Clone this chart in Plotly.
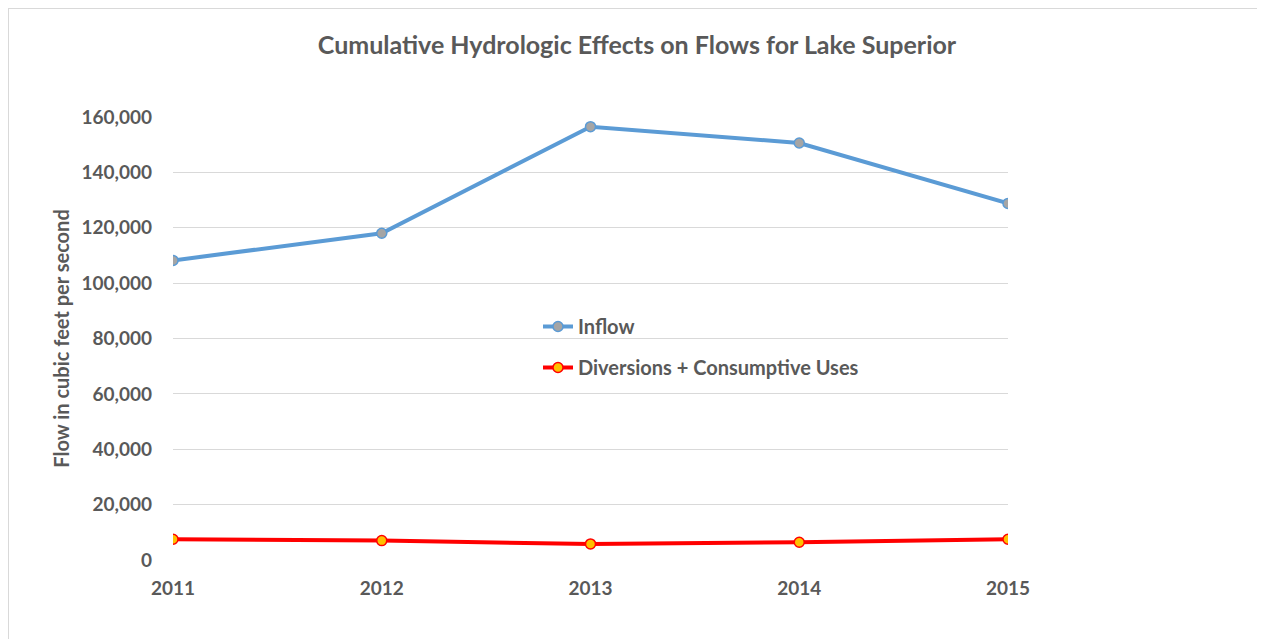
import plotly.graph_objects as go

years = [2011, 2012, 2013, 2014, 2015]
inflow = [108200, 118000, 156500, 150600, 128800]
diversions = [7500, 7000, 5800, 6400, 7500]
y_ticks = [0, 20000, 40000, 60000, 80000, 100000, 120000, 140000, 160000]

font_name = "Lato"
grey_text = "#595959"

fig = go.Figure()

fig.add_trace(go.Scatter(
    x=years, y=inflow, name="<b>Inflow</b>",
    mode="lines+markers", legendgroup="a",
    line=dict(color="#5B9BD5", width=4),
    marker=dict(size=10, color="#A5A5A5", line=dict(color="#5B9BD5", width=1.5))
))

fig.add_trace(go.Scatter(
    x=years, y=diversions, name="<b>Diversions + Consumptive Uses</b>",
    mode="lines+markers", legendgroup="b",
    line=dict(color="#FF0000", width=4),
    marker=dict(size=10, color="#FFC000", line=dict(color="#FF0000", width=1.5))
))

# page has an 8px body margin, so figure coords = page coords - 8
# plot area in figure pixels: x 165..1000, y 109..552
pw, ph = 835, 443
l, t = 165, 109
bottom = t + ph

fig.update_layout(
    width=1265, height=639,
    margin=dict(l=l, r=1265 - l - pw, t=t, b=639 - bottom),
    paper_bgcolor="white", plot_bgcolor="white",
    font=dict(family=font_name, color=grey_text),
    title=dict(
        text="<b>Cumulative Hydrologic Effects on Flows for Lake Superior</b>",
        x=(637 - 8) / 1265, xanchor="center", y=1 - 37 / 639, yanchor="middle",
        font=dict(size=25, color=grey_text, family=font_name)
    ),
    legend=dict(
        x=(530 - l) / pw, y=(bottom - 299) / ph, xanchor="left", yanchor="top",
        bgcolor="rgba(0,0,0,0)", traceorder="grouped", tracegroupgap=12,
        font=dict(size=20, color=grey_text, family=font_name)
    ),
    xaxis=dict(
        range=[2011, 2015], tickvals=years,
        ticktext=["<b>%d</b>" % yr for yr in years],
        showgrid=False, showline=False, zeroline=False,
        tickfont=dict(size=19, color=grey_text), ticks="", ticklabelstandoff=15
    ),
    yaxis=dict(
        range=[0, 160000], tickvals=y_ticks,
        ticktext=["<b>{:,}</b>".format(v) for v in y_ticks],
        showgrid=True, gridcolor="#D9D9D9", gridwidth=1,
        zeroline=False, showline=False,
        tickfont=dict(size=19, color=grey_text), ticks="", ticklabelstandoff=20,
        title=dict(text="<b>Flow in cubic feet per second</b>",
                   font=dict(size=20, color=grey_text), standoff=6)
    ),
    shapes=[dict(
        type="rect", xref="paper", yref="paper",
        x0=(0 - l) / pw, x1=(1280 - l) / pw,
        y0=(bottom - 660) / ph, y1=(bottom - 0) / ph,
        line=dict(color="#D9D9D9", width=2), layer="below"
    )]
)

fig.write_html("out.html")
